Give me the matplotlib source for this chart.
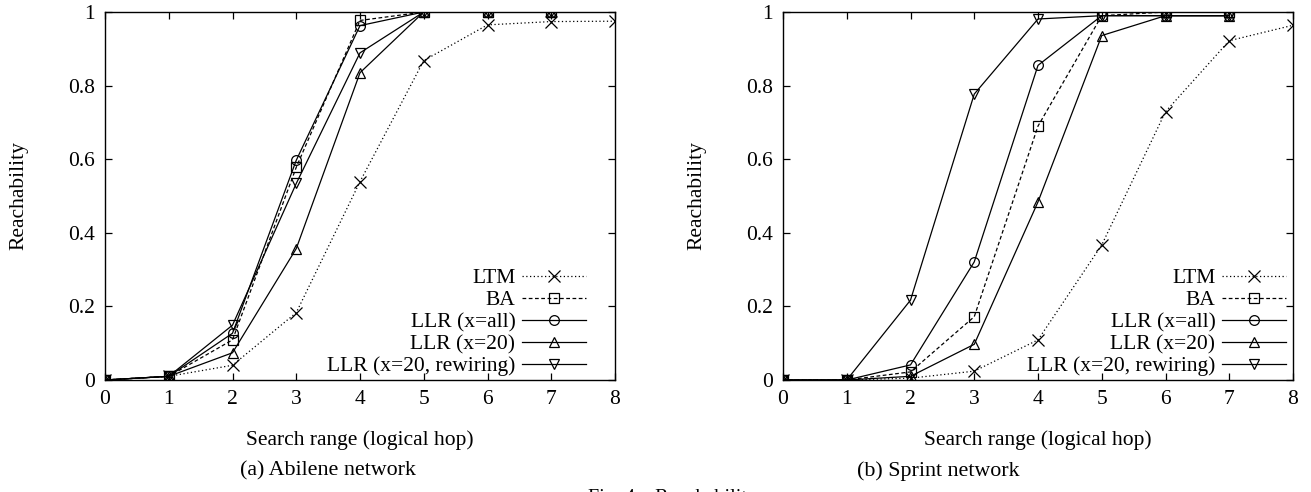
import matplotlib
matplotlib.use("Agg")
import matplotlib.pyplot as plt

plt.rcParams['font.family'] = ['Liberation Serif', 'DejaVu Serif']

hops = [0, 1, 2, 3, 4, 5, 6, 7, 8]
labels = ["LTM", "BA", "LLR (x=all)", "LLR (x=20)", "LLR (x=20, rewiring)"]

# Abilene network
abilene_ltm = [0.0, 0.01, 0.04, 0.183, 0.539, 0.868, 0.965, 0.974, 0.975]
abilene_ba = [0.0, 0.01, 0.109, 0.578, 0.977, 1.0, 1.0, 1.0]
abilene_llr_all = [0.0, 0.01, 0.127, 0.597, 0.963, 1.0, 1.0, 1.0]
abilene_llr_20 = [0.0, 0.01, 0.074, 0.357, 0.835, 1.0, 1.0, 1.0]
abilene_llr_rew = [0.0, 0.01, 0.149, 0.534, 0.889, 1.0, 1.0, 1.0]

# Sprint network
sprint_ltm = [0.0, 0.0, 0.005, 0.024, 0.109, 0.367, 0.729, 0.922, 0.964]
sprint_ba = [0.0, 0.0, 0.022, 0.172, 0.69, 0.99, 1.0, 1.0]
sprint_llr_all = [0.0, 0.0, 0.041, 0.321, 0.855, 0.99, 0.99, 0.99]
sprint_llr_20 = [0.0, 0.0, 0.01, 0.097, 0.484, 0.936, 0.99, 0.99]
sprint_llr_rew = [0.0, 0.0, 0.217, 0.777, 0.981, 0.99, 0.99, 0.99]

yticks = [0, 0.2, 0.4, 0.6, 0.8, 1]
ytick_labels = ["0", "0.2", "0.4", "0.6", "0.8", "1"]
xlabel = "Search range (logical hop)"
ylabel = "Reachability"
captions = ["(a) Abilene network", "(b) Sprint network"]
fig_caption = "Fig. 4.   Reachability"

styles = [
    dict(linestyle=(0, (1, 2)), marker='x', ms=8),
    dict(linestyle=(0, (3, 2)), marker='s', ms=7),
    dict(linestyle='-', marker='o', ms=7),
    dict(linestyle='-', marker='^', ms=7),
    dict(linestyle='-', marker='v', ms=7),
]

FS = 15.5
fig = plt.figure(figsize=(13.11, 4.92), dpi=100)
W, H = 1311, 492

def make_ax(left_px, right_px, data, cap, cap_x, leg_x):
    ax = fig.add_axes([left_px / W, 1 - 380 / H, (right_px - left_px) / W, (380 - 12) / H])
    for series, lab, st in zip(data, labels, styles):
        ax.plot(hops[:len(series)], series, color='black', lw=0.9,
                markerfacecolor='none', markeredgecolor='black', markeredgewidth=0.9,
                label=lab, **st)
    ax.set_xlim(0, 8)
    ax.set_ylim(0, 1)
    ax.set_xticks(hops)
    ax.set_xticklabels([str(h) for h in hops])
    ax.set_yticks(yticks)
    ax.set_yticklabels(ytick_labels)
    ax.tick_params(direction='in', top=True, right=True, length=5, width=0.9,
                   labelsize=FS, pad=7)
    for s in ax.spines.values():
        s.set_linewidth(1.0)
    ax.set_xlabel(xlabel, fontsize=FS, labelpad=15.5)
    ax.set_ylabel(ylabel, fontsize=FS, labelpad=29)
    ax.legend(loc='lower right', bbox_to_anchor=(leg_x, -0.0136), frameon=False,
              markerfirst=False, fontsize=FS, handlelength=3.0,
              handletextpad=0.3, labelspacing=0.09, borderaxespad=0.2,
              borderpad=0.2)
    fig.text(cap_x / W, 1 - 471 / H, cap, fontsize=15.8, ha='center', va='center')
    return ax

make_ax(105, 615, [abilene_ltm, abilene_ba, abilene_llr_all, abilene_llr_20, abilene_llr_rew],
        captions[0], 328, 0.961)
make_ax(783, 1293, [sprint_ltm, sprint_ba, sprint_llr_all, sprint_llr_20, sprint_llr_rew],
        captions[1], 938, 1.004)

fig.text(672 / W, 1 - 489 / H, fig_caption, fontsize=FS - 1, ha='center', va='top')

fig.savefig("out.png", dpi=100)
